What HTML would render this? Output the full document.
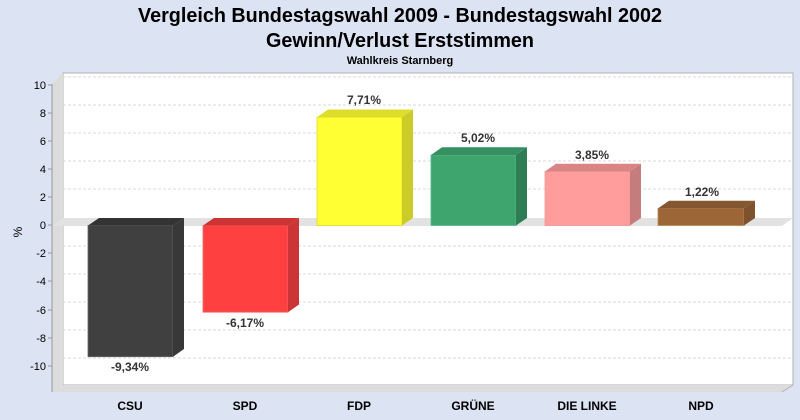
<!DOCTYPE html>
<html><head><meta charset="utf-8"><style>html,body{margin:0;padding:0;background:#dce3f3;}svg{display:block}</style></head>
<body>
<svg width="800" height="420" xmlns="http://www.w3.org/2000/svg" font-family="Liberation Sans, Arial, sans-serif">
<rect width="800" height="420" fill="#dce3f3"/>
<text x="400" y="22" text-anchor="middle" font-size="20" font-weight="bold" textLength="524" lengthAdjust="spacingAndGlyphs">Vergleich Bundestagswahl 2009 - Bundestagswahl 2002</text>
<text x="400" y="47" text-anchor="middle" font-size="20" font-weight="bold" textLength="268" lengthAdjust="spacingAndGlyphs">Gewinn/Verlust Erststimmen</text>
<text x="400" y="64" text-anchor="middle" font-size="11" font-weight="bold">Wahlkreis Starnberg</text>
<!-- back wall -->
<rect x="63" y="73" width="730" height="312" fill="#fff" stroke="#b0b0b0"/>
<!-- left wall -->
<polygon points="52,84 63,73 63,385 52,392" fill="#dcdcdc"/>
<!-- floor -->
<polygon points="52,392 63,385 793,385 782,392" fill="#dcdcdc"/>
<line x1="782" y1="392" x2="793" y2="385" stroke="#b0b0b0"/>
<line x1="793" y1="73" x2="793" y2="385" stroke="#b0b0b0"/>
<!-- gridlines -->
<g stroke="#d8d8d8" stroke-dasharray="3,2">
<line x1="63" x2="793" y1="77" y2="77"/><line x1="63" x2="793" y1="105" y2="105"/><line x1="63" x2="793" y1="133" y2="133"/><line x1="63" x2="793" y1="161" y2="161"/><line x1="63" x2="793" y1="189" y2="189"/><line x1="63" x2="793" y1="246" y2="246"/><line x1="63" x2="793" y1="274" y2="274"/><line x1="63" x2="793" y1="302" y2="302"/><line x1="63" x2="793" y1="330" y2="330"/><line x1="63" x2="793" y1="358" y2="358"/>
</g>
<!-- zero plane -->
<polygon points="52,226 63,218 793,218 782,226" fill="#e2e2e2"/>
<!-- axis -->
<line x1="52" y1="84" x2="52" y2="392" stroke="#999"/>
<g font-size="11" text-anchor="end">
<text x="46" y="89">10</text><text x="46" y="117">8</text><text x="46" y="145">6</text><text x="46" y="173">4</text><text x="46" y="201">2</text><text x="46" y="229">0</text><text x="46" y="257">-2</text><text x="46" y="285">-4</text><text x="46" y="314">-6</text><text x="46" y="342">-8</text><text x="46" y="370">-10</text>
</g>
<g stroke="#999"><line x1="48" x2="52" y1="85" y2="85"/><line x1="48" x2="52" y1="113" y2="113"/><line x1="48" x2="52" y1="141" y2="141"/><line x1="48" x2="52" y1="169" y2="169"/><line x1="48" x2="52" y1="197" y2="197"/><line x1="48" x2="52" y1="225" y2="225"/><line x1="48" x2="52" y1="253" y2="253"/><line x1="48" x2="52" y1="281" y2="281"/><line x1="48" x2="52" y1="310" y2="310"/><line x1="48" x2="52" y1="338" y2="338"/><line x1="48" x2="52" y1="366" y2="366"/></g>
<text x="22" y="232" font-size="12" transform="rotate(-90 22 232)" text-anchor="middle">%</text>
<!-- bars -->
<!-- CSU -->
<rect x="88" y="225.5" width="85" height="131.2" fill="#404040" stroke="#666" stroke-width="0.8"/>
<polygon points="88,225.5 99,218 184,218 173,225.5" fill="#333"/>
<polygon points="173,225.5 184,218 184,349 173,356.7" fill="#383838"/>
<!-- SPD -->
<rect x="203" y="225.5" width="85" height="86.7" fill="#ff4040" stroke="#e66" stroke-width="0.8"/>
<polygon points="203,225.5 214,218 299,218 288,225.5" fill="#cc3333"/>
<polygon points="288,225.5 299,218 299,304.5 288,312.2" fill="#cc3535"/>
<!-- FDP -->
<rect x="317" y="117.2" width="85" height="108.3" fill="#ffff33" stroke="#dd3" stroke-width="0.8"/>
<polygon points="317,117.2 328,109.5 413,109.5 402,117.2" fill="#dddd2a"/>
<polygon points="402,117.2 413,109.5 413,218 402,225.5" fill="#cccc29"/>
<!-- GRUENE -->
<rect x="431" y="155" width="85" height="70.5" fill="#3ea56f" stroke="#5b8" stroke-width="0.8"/>
<polygon points="431,155 442,147.3 527,147.3 516,155" fill="#358f60"/>
<polygon points="516,155 527,147.3 527,218 516,225.5" fill="#2e7d54"/>
<!-- LINKE -->
<rect x="545" y="171.4" width="85" height="54.1" fill="#ff9d9d" stroke="#e99" stroke-width="0.8"/>
<polygon points="545,171.4 556,163.7 641,163.7 630,171.4" fill="#d98585"/>
<polygon points="630,171.4 641,163.7 641,218 630,225.5" fill="#c47c7c"/>
<!-- NPD -->
<rect x="658" y="208.4" width="86" height="17.1" fill="#9c6637" stroke="#b8875c" stroke-width="0.8"/>
<polygon points="658,208.4 669,200.7 755,200.7 744,208.4" fill="#855730"/>
<polygon points="744,208.4 755,200.7 755,218 744,225.5" fill="#7d522c"/>
<!-- value labels -->
<g font-size="12" font-weight="bold" fill="#333" text-anchor="middle">
<text x="130" y="371">-9,34%</text>
<text x="245" y="327">-6,17%</text>
<text x="364" y="104">7,71%</text>
<text x="478" y="142">5,02%</text>
<text x="592" y="159">3,85%</text>
<text x="702" y="196">1,22%</text>
</g>
<g font-size="12" font-weight="bold" text-anchor="middle">
<text x="130" y="410">CSU</text><text x="245" y="410">SPD</text><text x="359" y="410">FDP</text><text x="473" y="410">GRÜNE</text><text x="587" y="410">DIE LINKE</text><text x="701" y="410">NPD</text>
</g>
</svg>
</body></html>
